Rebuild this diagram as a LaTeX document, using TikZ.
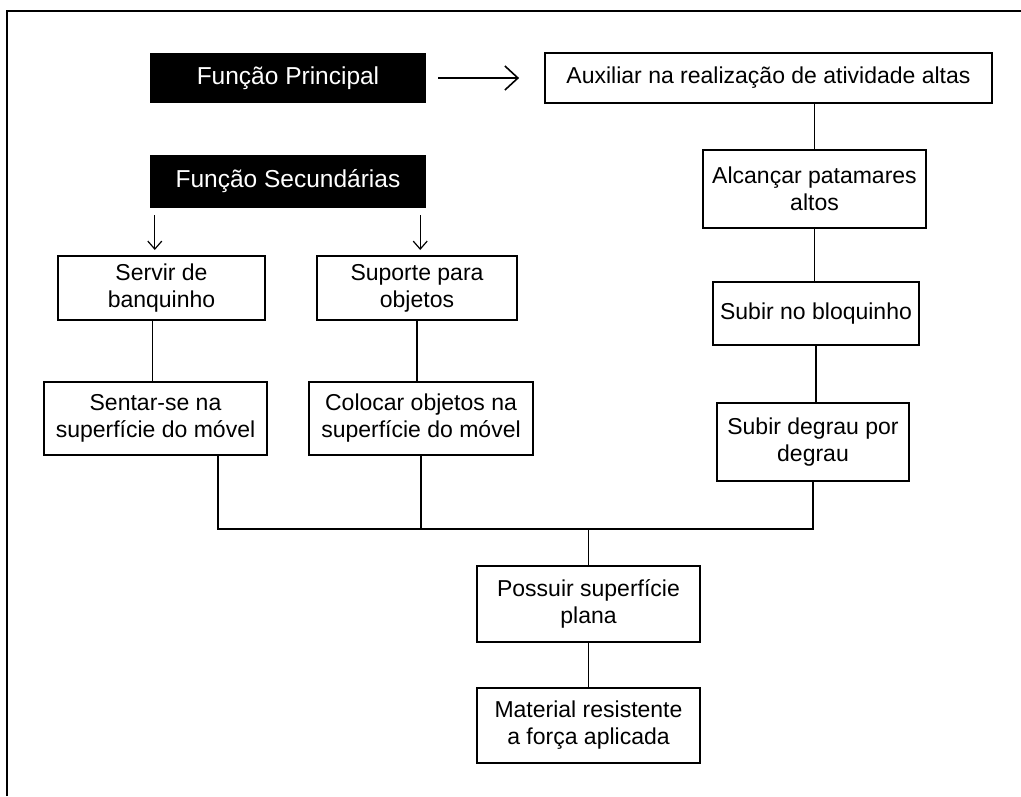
\documentclass[tikz,border=0pt]{standalone}
\usepackage{fontspec}
\setmainfont{Liberation Sans}
\usetikzlibrary{arrows.meta}
\begin{document}
\begin{tikzpicture}[x=1pt,y=-1pt,
  every node/.style={font=\fontsize{23}{27}\selectfont},
  box/.style={draw, line width=1.8pt, inner sep=0pt, align=center},
  blackbox/.style={fill=black, text=white, inner sep=0pt, align=center, font=\fontsize{24.5}{28}\selectfont},
  link/.style={line width=1.7pt},
  bigarrow/.style={line width=1.6pt, -{Straight Barb[length=13pt,width=24pt,line width=1.6pt]}},
  smallarrow/.style={line width=1.2pt, -{Straight Barb[length=8pt,width=14pt,line width=1.2pt]}}]
\useasboundingbox (0,0) rectangle (1021,796);
% frame
\draw[line width=1.8pt] (7,796) -- (7,11) -- (1021,11);
% nodes
\node[blackbox, minimum width=276, minimum height=50] (fp) at (288,78) {Função Principal};
\node[blackbox, minimum width=276, minimum height=53] (fs) at (288,181.5) {Função Secundárias};
\node[box, minimum width=447, minimum height=50] (aux) at (768.5,78) {Auxiliar na realização de atividade altas};
\node[box, minimum width=223, minimum height=78] (alc) at (814.5,189) {Alcançar patamares\\altos};
\node[box, minimum width=206, minimum height=63] (sub1) at (816,313.5) {Subir no bloquinho};
\node[box, minimum width=192, minimum height=78] (sub2) at (813,442) {Subir degrau por\\degrau};
\node[box, minimum width=207, minimum height=64] (serv) at (161.5,288) {Servir de\\banquinho};
\node[box, minimum width=200, minimum height=64] (sup) at (417,288) {Suporte para\\objetos};
\node[box, minimum width=223, minimum height=73] (sent) at (155.5,418.5) {Sentar-se na\\superfície do móvel};
\node[box, minimum width=224, minimum height=73] (col) at (421,418.5) {Colocar objetos na\\superfície do móvel};
\node[box, minimum width=223, minimum height=76] (pos) at (588.5,604) {Possuir superfície\\plana};
\node[box, minimum width=223, minimum height=75] (mat) at (588.5,725.5) {Material resistente\\a força aplicada};
% coordinates
\coordinate (busL) at ([xshift=62.5]sent.south |- 0,529);
\coordinate (busR) at (sub2.south |- 0,529);
% connectors
\draw[bigarrow] ([xshift=12]fp.east) -- ([xshift=-25]aux.west);
\draw[smallarrow] ([shift={(5,7)}]fs.south west) -- ([xshift=5]fs.south west |- 0,250);
\draw[smallarrow] ([shift={(-6,7)}]fs.south east) -- ([xshift=-6]fs.south east |- 0,250);
\draw[link] (alc.north) -- (alc.north |- aux.south);
\draw[link] (alc.south) -- (alc.south |- sub1.north);
\draw[link] (sub1.south) -- (sub1.south |- sub2.north);
\draw[link] ([xshift=-3]sent.north) -- ([xshift=-3]sent.north |- serv.south);
\draw[link] (sup.south) -- (sup.south |- col.north);
\draw[link] ([xshift=62.5]sent.south) -- (busL) -- (busR) -- (sub2.south);
\draw[link] (col.south) -- (col.south |- busL);
\draw[link] (pos.north) -- (pos.north |- busL);
\draw[link] (pos.south) -- (mat.north);
\end{tikzpicture}
\end{document}
